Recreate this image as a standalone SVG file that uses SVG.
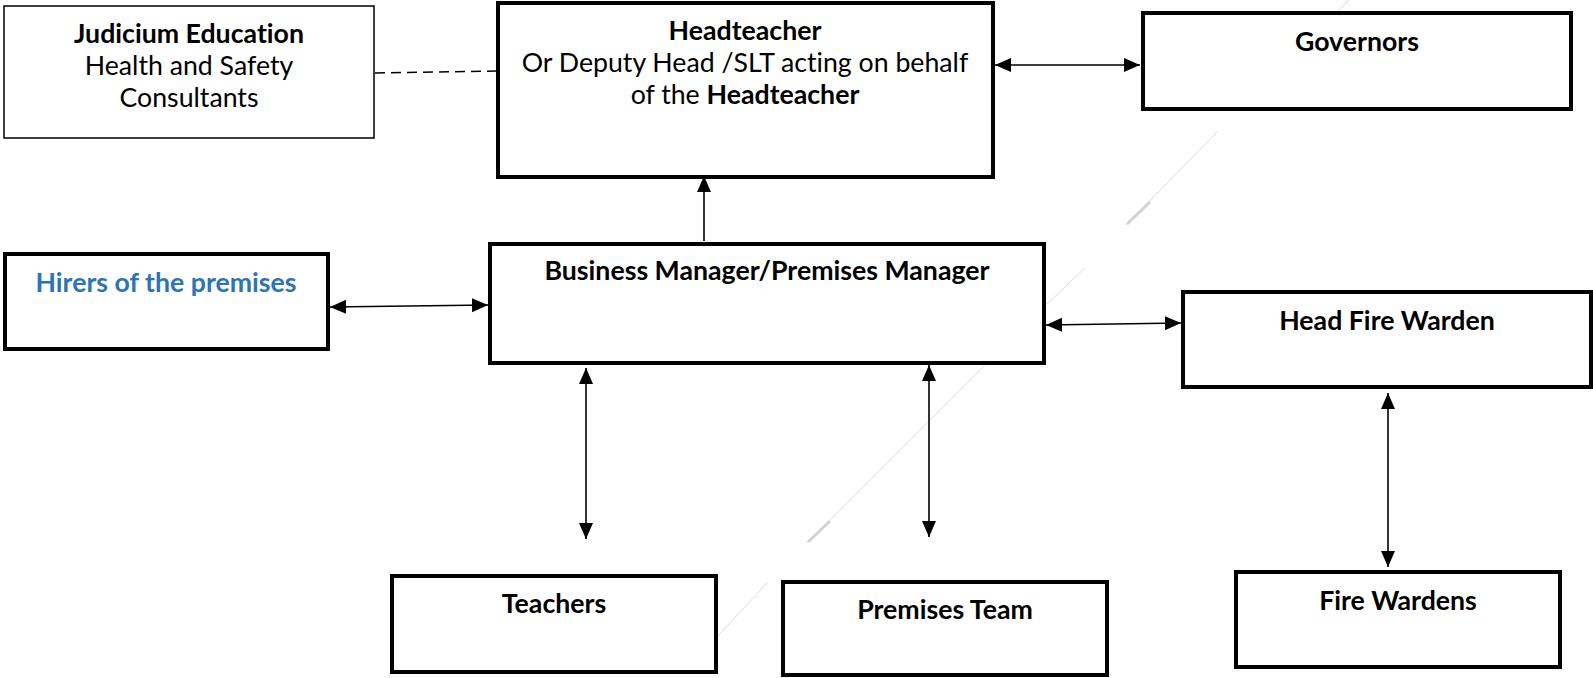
<svg xmlns="http://www.w3.org/2000/svg" width="1593" height="678" viewBox="0 0 1593 678">
<style>
  .box { fill: #ffffff; stroke: #000000; stroke-width: 4; }
  .thin { fill: #ffffff; stroke: #000000; stroke-width: 1.5; }
  text { font-family: Lato, "Liberation Sans", sans-serif; font-size: 26.7px; fill: #000000; text-anchor: middle; font-variant-ligatures: none; font-feature-settings: "liga" 0; }
  .b { font-weight: bold; }
  .blue { fill: #2E74B5; }
  .conn { stroke: #000000; stroke-width: 1.6; fill: none; }
  .dash { stroke: #000000; stroke-width: 1.5; stroke-dasharray: 10 6; fill: none; }
  .faint { stroke: #dcdcdc; stroke-width: 1; fill: none; }
  .faint2 { stroke: #d2d2d2; stroke-width: 3; fill: none; }
</style>
<defs>
  <marker id="arr" markerUnits="userSpaceOnUse" markerWidth="17" markerHeight="15" refX="16" refY="7" orient="auto-start-reverse" viewBox="0 0 17 14">
    <path d="M0,0 L16,7 L0,14 z" fill="#000000"/>
  </marker>
</defs>
<rect width="1593" height="678" fill="#ffffff"/>

<g id="background-lines">
  <line class="faint" x1="1349" y1="0" x2="1338" y2="11"/>
  <line class="faint" x1="1218" y1="131" x2="1126" y2="225"/>
  <line class="faint2" x1="1150" y1="202" x2="1127" y2="224"/>
  <line class="faint" x1="1085" y1="268" x2="1047" y2="304"/>
  <line class="faint" x1="985" y1="365" x2="807" y2="543"/>
  <line class="faint2" x1="830" y1="521" x2="808" y2="542"/>
  <line class="faint" x1="767" y1="583" x2="717" y2="637"/>
</g>

<g id="connectors">
  <line class="dash" x1="375" y1="73" x2="496" y2="71"/>
  <line class="conn" x1="330" y1="307" x2="488" y2="305" marker-start="url(#arr)" marker-end="url(#arr)"/>
  <line class="conn" x1="704" y1="241" x2="704" y2="176" marker-end="url(#arr)"/>
  <line class="conn" x1="995" y1="65" x2="1140" y2="65" marker-start="url(#arr)" marker-end="url(#arr)"/>
  <line class="conn" x1="1046" y1="325" x2="1181" y2="323" marker-start="url(#arr)" marker-end="url(#arr)"/>
  <line class="conn" x1="586" y1="368" x2="586" y2="539" marker-start="url(#arr)" marker-end="url(#arr)"/>
  <line class="conn" x1="929" y1="365" x2="929" y2="537" marker-start="url(#arr)" marker-end="url(#arr)"/>
  <line class="conn" x1="1388" y1="393" x2="1388" y2="567" marker-start="url(#arr)" marker-end="url(#arr)"/>
</g>

<g id="judicium">
  <rect class="thin" x="4" y="6" width="370" height="132"/>
  <text x="189" y="43" class="b">Judicium Education</text>
  <text x="189" y="75">Health and Safety</text>
  <text x="189" y="107">Consultants</text>
</g>

<g id="headteacher">
  <rect class="box" x="498" y="3" width="495" height="174"/>
  <text x="745" y="40" class="b">Headteacher</text>
  <text x="745" y="72">Or Deputy Head /SLT acting on behalf</text>
  <text x="745" y="104">of the <tspan class="b">Headteacher</tspan></text>
</g>

<g id="governors">
  <rect class="box" x="1143" y="13" width="428" height="96"/>
  <text x="1357" y="51" class="b">Governors</text>
</g>

<g id="hirers">
  <rect class="box" x="5" y="254" width="323" height="95"/>
  <text x="166" y="292" class="b blue">Hirers of the premises</text>
</g>

<g id="business-manager">
  <rect class="box" x="490" y="244" width="554" height="119"/>
  <text x="767" y="280" class="b">Business Manager/Premises Manager</text>
</g>

<g id="head-fire-warden">
  <rect class="box" x="1183" y="292" width="408" height="95"/>
  <text x="1387" y="330" class="b">Head Fire Warden</text>
</g>

<g id="teachers">
  <rect class="box" x="392" y="576" width="324" height="96"/>
  <text x="554" y="613" class="b">Teachers</text>
</g>

<g id="premises-team">
  <rect class="box" x="783" y="582" width="324" height="93"/>
  <text x="945" y="619" class="b">Premises Team</text>
</g>

<g id="fire-wardens">
  <rect class="box" x="1236" y="572" width="324" height="95"/>
  <text x="1398" y="610" class="b">Fire Wardens</text>
</g>
</svg>
